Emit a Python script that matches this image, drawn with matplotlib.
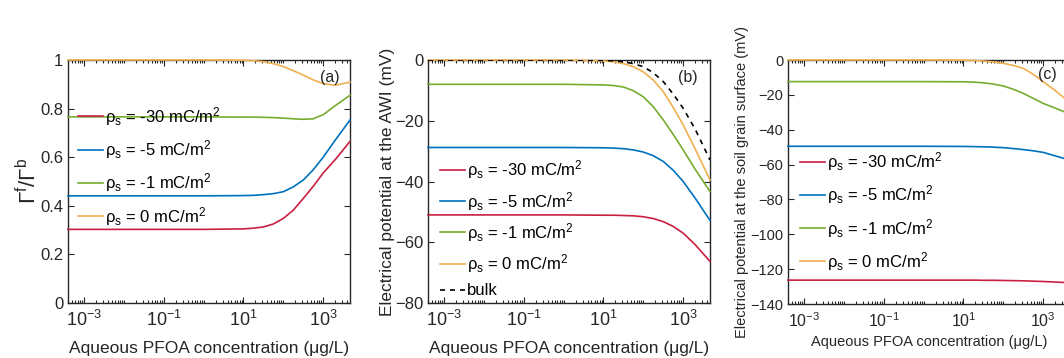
import matplotlib
matplotlib.use('Agg')
import matplotlib.pyplot as plt
from matplotlib.ticker import LogLocator, NullFormatter, FixedLocator

plt.rcParams['font.family'] = ['Liberation Sans', 'DejaVu Sans']
plt.rcParams['mathtext.fontset'] = 'custom'
plt.rcParams['mathtext.rm'] = 'Liberation Sans'
plt.rcParams['mathtext.it'] = 'Liberation Sans'

# aqueous PFOA concentration (ug/L) at the read-off points
conc = [0.0004, 1, 10, 18, 32, 56, 100, 178, 316, 562, 1000, 2000, 4700]

# (a) surface excess ratio
a_m30 = [0.303, 0.303, 0.305, 0.308, 0.313, 0.325, 0.348, 0.382, 0.43, 0.48, 0.535, 0.59, 0.665]
a_m5 = [0.441, 0.441, 0.442, 0.443, 0.446, 0.450, 0.458, 0.478, 0.506, 0.548, 0.60, 0.67, 0.753]
a_m1 = [0.766, 0.766, 0.765, 0.765, 0.764, 0.763, 0.761, 0.758, 0.756, 0.758, 0.775, 0.812, 0.855]
a_0 = [1.0, 1.0, 0.999, 0.997, 0.993, 0.985, 0.973, 0.956, 0.938, 0.918, 0.903, 0.896, 0.909]

# (b) potential at the AWI (mV)
b_m30 = [-51, -51, -51.1, -51.1, -51.2, -51.3, -51.6, -52.2, -53.2, -54.8, -57, -60.8, -66.3]
b_m5 = [-28.8, -28.8, -28.9, -29.0, -29.2, -29.6, -30.3, -31.5, -33.4, -36.3, -40, -45.5, -52.8]
b_m1 = [-8.0, -8.0, -8.2, -8.4, -8.9, -10.1, -12.1, -15.4, -19.7, -24.5, -29.6, -36.0, -43.3]
b_0 = [0, 0, -0.3, -0.6, -1.2, -2.2, -3.9, -6.6, -10.4, -15.6, -21.4, -29.3, -39.5]
b_bulk = [0, 0, -0.1, -0.3, -0.6, -1.2, -2.2, -4.2, -7.1, -11.2, -15.9, -22.8, -32.9]

# (c) potential at the soil grain surface (mV)
c_m30 = [-126.3, -126.3, -126.3, -126.3, -126.4, -126.4, -126.5, -126.6, -126.7, -126.9, -127.1, -127.4, -127.8]
c_m5 = [-49.5, -49.5, -49.6, -49.7, -49.8, -50.0, -50.3, -50.8, -51.4, -52.1, -53.0, -55.0, -57.5]
c_m1 = [-12.4, -12.4, -12.5, -12.7, -13.1, -13.8, -14.9, -16.8, -19.1, -22.0, -24.9, -27.6, -31.0]
c_0 = [0, 0, -0.1, -0.3, -0.6, -1.1, -1.9, -3.1, -4.8, -8.2, -12.4, -17.5, -24.5]

labels = [r'$\rho_s$ = -30 mC/m$^2$', r'$\rho_s$ = -5 mC/m$^2$',
          r'$\rho_s$ = -1 mC/m$^2$', r'$\rho_s$ = 0 mC/m$^2$']
colors = ['#c91f40', '#0072bd', '#77ac30', '#efb04f']
axcol = '#262626'

fig = plt.figure(figsize=(10.64, 3.58), dpi=100)
W, H = 1064, 358


def make_ax(left_px, bottom_px, top_px):
    return fig.add_axes([left_px / W, (H - bottom_px) / H, 282 / W, (bottom_px - top_px) / H])


def style(ax, fs):
    ax.set_xscale('log')
    ax.set_xlim(4e-4, 4.7e3)
    ax.xaxis.set_major_locator(FixedLocator([1e-3, 1e-1, 1e1, 1e3]))
    ax.xaxis.set_minor_locator(LogLocator(base=10, subs=range(1, 10), numticks=30))
    ax.xaxis.set_minor_formatter(NullFormatter())
    ax.tick_params(which='both', direction='in', top=True, right=True, colors=axcol, labelsize=fs, width=0.8)
    ax.tick_params(which='major', length=4)
    ax.tick_params(which='minor', length=2)
    ax.tick_params(axis='x', which='major', labelsize=fs + 1, pad=5)
    for s in ax.spines.values():
        s.set_color(axcol)
        s.set_linewidth(1.0)


def draw(ax, series, cols, labs):
    for y, c, l in zip(series, cols, labs):
        ax.plot(conc, y, color=c, lw=1.2, label=l, clip_on=False, zorder=3)


# panel (a)
ax1 = make_ax(68, 303, 60)
draw(ax1, [a_m30, a_m5, a_m1, a_0], colors, labels)
style(ax1, 12)
ax1.set_ylim(0, 1)
ax1.set_yticks([0, 0.2, 0.4, 0.6, 0.8, 1])
ax1.set_yticklabels(['0', '0.2', '0.4', '0.6', '0.8', '1'])
ax1.set_xlabel('Aqueous PFOA concentration (\u03bcg/L)', fontsize=12.5, color=axcol, labelpad=8)
ax1.set_ylabel(r'$\Gamma^f/\Gamma^b$', fontsize=16, color=axcol, labelpad=-1)
ax1.text(0.93, 0.93, '(a)', transform=ax1.transAxes, ha='center', va='center', fontsize=11.5, color=axcol)
ax1.legend(loc='upper left', bbox_to_anchor=(0.035, 0.815), frameon=False, fontsize=12,
           handlelength=1.5, handletextpad=0.1, labelspacing=0.62, borderpad=0, borderaxespad=0)

# panel (b)
ax2 = make_ax(428, 303, 60)
draw(ax2, [b_m30, b_m5, b_m1, b_0], colors, labels)
ax2.plot(conc, b_bulk, color='black', lw=1.2, ls=(0, (3, 3)), label='bulk', zorder=4)
style(ax2, 12)
ax2.set_ylim(-80, 0)
ax2.set_yticks([-80, -60, -40, -20, 0])
ax2.set_xlabel('Aqueous PFOA concentration (\u03bcg/L)', fontsize=12.5, color=axcol, labelpad=8)
ax2.set_ylabel('Electrical potential at the AWI (mV)', fontsize=12.5, color=axcol, labelpad=0)
ax2.text(0.92, 0.93, '(b)', transform=ax2.transAxes, ha='center', va='center', fontsize=11.5, color=axcol)
ax2.legend(loc='upper left', bbox_to_anchor=(0.042, 0.595), frameon=False, fontsize=12,
           handlelength=1.5, handletextpad=0.1, labelspacing=0.5, borderpad=0, borderaxespad=0)

# panel (c) - cut by the right edge of the figure
ax3 = make_ax(788, 304, 60)
draw(ax3, [c_m30, c_m5, c_m1, c_0], colors, labels)
style(ax3, 10.5)
ax3.tick_params(axis='x', which='major', pad=5)
ax3.set_ylim(-140, 0)
ax3.set_yticks(range(-140, 1, 20))
ax3.set_xlabel('Aqueous PFOA concentration (\u03bcg/L)', fontsize=10.5, color=axcol, labelpad=4)
ax3.set_ylabel('Electrical potential at the soil grain surface (mV)', fontsize=10.5, color=axcol, labelpad=1)
ax3.text(0.92, 0.94, '(c)', transform=ax3.transAxes, ha='center', va='center', fontsize=11.5, color=axcol)
ax3.legend(loc='upper left', bbox_to_anchor=(0.042, 0.63), frameon=False, fontsize=12,
           handlelength=1.5, handletextpad=0.1, labelspacing=0.62, borderpad=0, borderaxespad=0)

fig.savefig('out.png', dpi=100)
